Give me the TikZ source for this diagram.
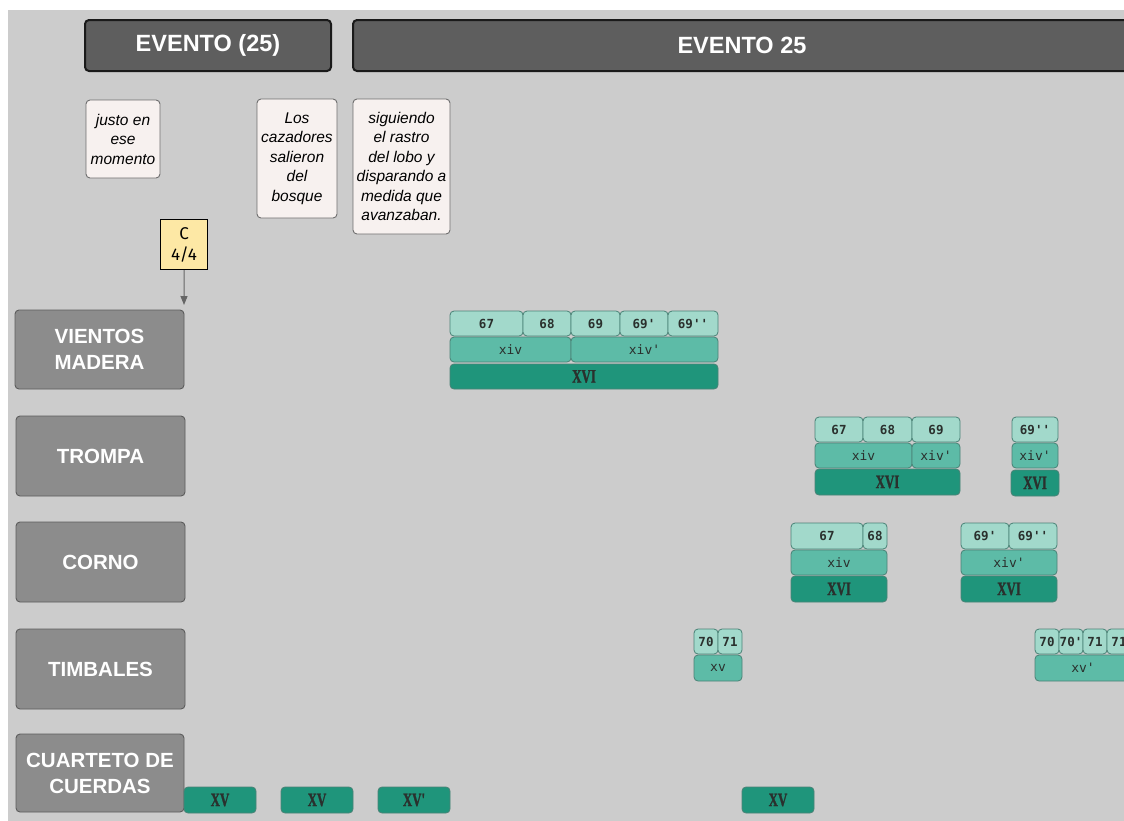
\documentclass[tikz,border=0pt]{standalone}
\usepackage{fontspec}
\setmainfont{Liberation Sans}
\newfontfamily\monof{DejaVu Sans Mono}
\newfontfamily\romf{Liberation Serif}[FakeStretch=0.68, FakeBold=1.2]
\newfontfamily\handf{Fira Sans}
\usetikzlibrary{arrows.meta}
\definecolor{bgc}{HTML}{CCCCCC}
\definecolor{hdrfill}{HTML}{5E5E5E}
\definecolor{hdrline}{HTML}{1A1A1A}
\definecolor{notefill}{HTML}{F7F1EF}
\definecolor{noteline}{HTML}{6E6E6E}
\definecolor{lblfill}{HTML}{8C8C8C}
\definecolor{lblline}{HTML}{5C5C5C}
\definecolor{tlight}{HTML}{A2D9CB}
\definecolor{tmid}{HTML}{5DBBA7}
\definecolor{tdark}{HTML}{1F957B}
\definecolor{tline}{HTML}{4A8276}
\definecolor{ttext}{HTML}{2A302D}
\definecolor{yfill}{HTML}{FDE8A5}
\definecolor{arrc}{HTML}{666666}
\tikzset{
  box/.style={anchor=north west, inner sep=0pt, outer sep=0pt, rounded corners=4pt},
  hdr/.style={box, fill=hdrfill, draw=hdrline, line width=2pt, text=white, font=\bfseries\fontsize{23.5}{26}\selectfont},
  note/.style={box, fill=notefill, draw=noteline, line width=0.9pt, align=center, font=\itshape\fontsize{15.5}{19.5}\selectfont},
  lbl/.style={box, fill=lblfill, draw=lblline, line width=0.9pt, text=white, align=center, font=\bfseries\fontsize{20.5}{26}\selectfont},
  clight/.style={box, fill=tlight, draw=tline, line width=0.8pt, text=ttext, font=\monof\bfseries\fontsize{12.5}{14}\selectfont},
  cmid/.style={box, fill=tmid, draw=tline, line width=0.8pt, text=ttext, font=\monof\fontsize{13}{14}\selectfont},
  cdark/.style={box, fill=tdark, draw=tline, line width=0.8pt, text=ttext, font=\romf\bfseries\fontsize{19}{20}\selectfont},
  ybox/.style={anchor=north west, inner sep=0pt, fill=yfill, draw=black, line width=1.2pt, align=center, font=\handf\fontsize{17}{21}\selectfont},
}
% \cell{name}{style}{x1}{x2}{y1}{y2}{text}
\newcommand\cell[7]{\node[#2, minimum width={#4pt-#3pt}, minimum height={#6pt-#5pt}] (#1) at (#3,#5) {#7};}
\begin{document}
\begin{tikzpicture}[x=1pt,y=-1pt]
\useasboundingbox (0,0) rectangle (1124,820);
\clip (0,0) rectangle (1124,820);
\fill[white] (0,0) rectangle (1124,820);
\fill[bgc] (8,10) rectangle (1130,830);
% headers
\cell{h1}{hdr}{85}{331}{20}{71}{EVENTO (25)}
\node[hdr, minimum width=800pt, minimum height=51pt] (h2) at (353,20) {};
\node[text=white, font=\bfseries\fontsize{23.5}{26}\selectfont] (h2t) at (742,45.5) {EVENTO 25};
% notes
\cell{n1}{note}{86}{160}{100}{178}{justo en\\ese\\momento}
\cell{n2}{note}{257}{337}{99}{218}{Los\\cazadores\\salieron\\del\\bosque}
\cell{n3}{note}{353}{450}{99}{234}{siguiendo\\el rastro\\del lobo y\\disparando a\\medida que\\avanzaban.}
% C 4/4
\cell{c44}{ybox}{160}{207}{219}{269}{C\\4/4}
\coordinate (arrEnd) at (184,305);
\draw[arrc, line width=1pt, -{Triangle[length=9pt,width=7pt]}] (c44.south) -- (arrEnd);
% row labels
\cell{l1}{lbl}{15}{184}{310}{389}{VIENTOS\\MADERA}
\cell{l2}{lbl}{16}{185}{416}{496}{TROMPA}
\cell{l3}{lbl}{16}{185}{522}{602}{CORNO}
\cell{l4}{lbl}{16}{185}{629}{709}{TIMBALES}
\cell{l5}{lbl}{16}{184}{734}{812}{CUARTETO DE\\CUERDAS}
% VIENTOS MADERA
\cell{v67}{clight}{450}{523}{311}{336}{67}
\cell{v68}{clight}{523}{571}{311}{336}{68}
\cell{v69}{clight}{571}{620}{311}{336}{69}
\cell{v69a}{clight}{620}{668}{311}{336}{69'}
\cell{v69b}{clight}{668}{718}{311}{336}{69''}
\cell{vxiv}{cmid}{450}{571}{337}{362}{xiv}
\cell{vxiva}{cmid}{571}{718}{337}{362}{xiv'}
\cell{vXVI}{cdark}{450}{718}{364}{389}{XVI}
% TROMPA
\cell{t67}{clight}{815}{863}{417}{442}{67}
\cell{t68}{clight}{863}{912}{417}{442}{68}
\cell{t69}{clight}{912}{960}{417}{442}{69}
\cell{txiv}{cmid}{815}{912}{443}{468}{xiv}
\cell{txiva}{cmid}{912}{960}{443}{468}{xiv'}
\cell{tXVI}{cdark}{815}{960}{469}{495}{XVI}
\cell{t69b}{clight}{1012}{1058}{417}{442}{69''}
\cell{txivb}{cmid}{1012}{1058}{443}{468}{xiv'}
\cell{tXVIb}{cdark}{1011}{1059}{470}{496}{XVI}
% CORNO
\cell{c67}{clight}{791}{863}{523}{549}{67}
\cell{c68}{clight}{863}{887}{523}{549}{68}
\cell{cxiv}{cmid}{791}{887}{550}{575}{xiv}
\cell{cXVI}{cdark}{791}{887}{576}{602}{XVI}
\cell{c69a}{clight}{961}{1009}{523}{549}{69'}
\cell{c69b}{clight}{1009}{1057}{523}{549}{69''}
\cell{cxiva}{cmid}{961}{1057}{550}{575}{xiv'}
\cell{cXVIb}{cdark}{961}{1057}{576}{602}{XVI}
% TIMBALES
\cell{k70}{clight}{694}{718}{629}{654}{70}
\cell{k71}{clight}{718}{742}{629}{654}{71}
\cell{kxv}{cmid}{694}{742}{655}{681}{xv}
\cell{k70b}{clight}{1035}{1059}{629}{654}{70}
\cell{k70c}{clight}{1059}{1083}{629}{654}{70'}
\cell{k71b}{clight}{1083}{1107}{629}{654}{71}
\cell{k71c}{clight}{1107}{1131}{629}{654}{71}
\node[cmid, minimum width=110pt, minimum height=26pt] (kxvb) at (1035,655) {};
\node[text=ttext, font=\monof\fontsize{13}{14}\selectfont] (kxvbt) at (1083,668) {xv'};
% CUARTETO
\cell{s1}{cdark}{184}{256}{787}{813}{XV}
\cell{s2}{cdark}{281}{353}{787}{813}{XV}
\cell{s3}{cdark}{378}{450}{787}{813}{XV'}
\cell{s4}{cdark}{742}{814}{787}{813}{XV}
\end{tikzpicture}
\end{document}
